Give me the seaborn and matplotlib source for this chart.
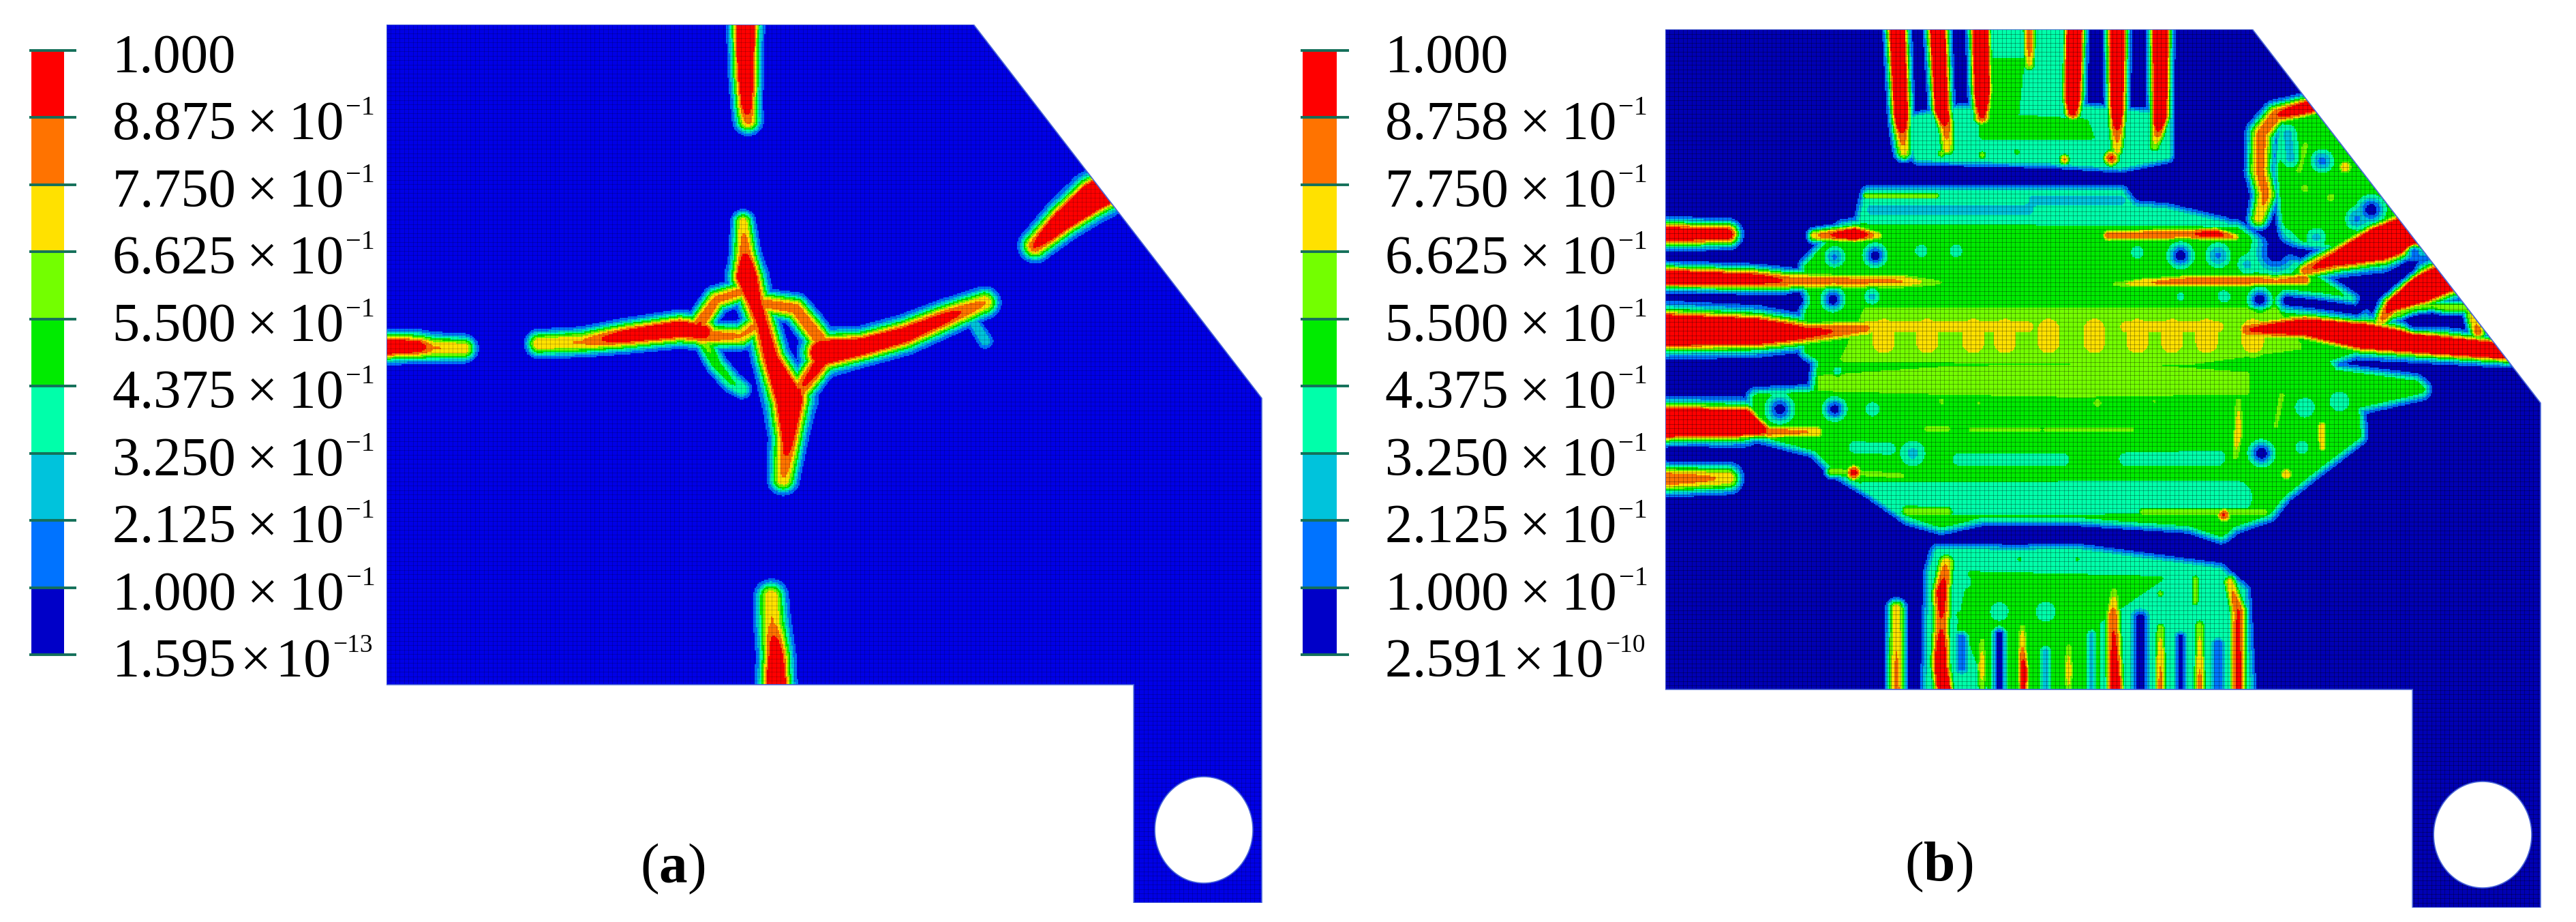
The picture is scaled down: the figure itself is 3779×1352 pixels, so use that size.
import numpy as np
import matplotlib
matplotlib.use("Agg")
import matplotlib.pyplot as plt
import seaborn as sns
from matplotlib.colors import BoundaryNorm, ListedColormap
from matplotlib.patches import PathPatch
from matplotlib.path import Path

# colour legend, top to bottom
numbers_a = ["1.000", "8.875", "7.750", "6.625", "5.500", "4.375", "3.250", "2.125", "1.000", "1.595"]
numbers_b = ["1.000", "8.758", "7.750", "6.625", "5.500", "4.375", "3.250", "2.125", "1.000", "2.591"]
powers_a = [None, "\u22121", "\u22121", "\u22121", "\u22121", "\u22121", "\u22121", "\u22121", "\u22121", "\u221213"]
powers_b = [None, "\u22121", "\u22121", "\u22121", "\u22121", "\u22121", "\u22121", "\u22121", "\u22121", "\u221210"]
boundaries = [0.0, 0.1, 0.2125, 0.325, 0.4375, 0.55, 0.6625, 0.775, 0.8875, 1.0001]
colours = ["#0000C8", "#0073FF", "#00C3DC", "#00FFAA", "#00EB00", "#73FF00", "#FFE100", "#FF7300", "#FF0000"]

# plate outline in px from its top left corner
outline = [(0, 0), (862, 0), (1285, 548), (1285, 1288), (1097, 1288), (1097, 968), (0, 968)]
hole = (1200, 1181, 72, 78)

# damage read along the crack lines of (a): x, y, half width, peak (enlarged crop units)
a_stem = [(598, 30, 31, 1.3), (598, 120, 29, 1.2), (600, 180, 27, 1.0), (602, 205, 27, 0.82)]
a_corner = [(1215, 310, 42, 1.55), (1170, 335, 42, 1.45), (1120, 375, 36, 1.2), (1075, 418, 30, 0.9)]
a_left = [(-10, 590, 30, 1.2), (60, 590, 29, 1.0), (85, 592, 28, 0.78), (135, 593, 26, 0.76)]
a_arm_l = [(258, 585, 26, 0.76), (330, 582, 27, 0.78), (400, 572, 30, 1.02), (490, 560, 32, 1.12), (530, 565, 32, 1.0)]
a_main = [(594, 378, 23, 0.72), (597, 430, 28, 0.88), (600, 470, 36, 1.2), (612, 510, 34, 1.0), (625, 550, 32, 0.95),
          (640, 610, 34, 1.0), (670, 680, 46, 1.25), (668, 745, 34, 0.98), (660, 815, 29, 0.77)]
a_arm_r = [(725, 600, 42, 1.25), (790, 590, 34, 1.1), (860, 570, 34, 1.05), (930, 540, 32, 0.95), (992, 515, 29, 0.78)]
a_ring_r = [(620, 515, 26, 0.82), (680, 525, 28, 0.85), (722, 580, 30, 0.88), (722, 615, 32, 0.98), (690, 660, 30, 0.88), (672, 680, 32, 0.98)]
a_ring_top = [(520, 555, 26, 0.9), (550, 510, 26, 0.82), (595, 495, 24, 0.82)]
a_ring_low = [(525, 572, 26, 0.9), (590, 572, 26, 0.78), (628, 545, 28, 0.82)]
a_hook = [(530, 580, 22, 0.6), (550, 620, 22, 0.5), (575, 650, 22, 0.45), (592, 662, 20, 0.42)]
a_tail = [(965, 535, 14, 0.3), (993, 580, 18, 0.28)]
a_bottom = [(648, 1180, 35, 1.3), (648, 1115, 33, 1.05), (642, 1060, 33, 0.78), (640, 1015, 31, 0.76)]
cracks_a = [a_stem, a_corner, a_left, a_arm_l, a_main, a_arm_r, a_ring_r, a_ring_top, a_ring_low, a_hook, a_tail, a_bottom]

# zones of (b): x, y polygons plus level and falloff width
zones_b = [
    ([(330, 750), (980, 760), (1010, 800), (1100, 900), (1190, 1010), (1210, 1130), (1130, 1180), (1150, 1230), (1290, 1265),
      (1300, 1280), (1185, 1330), (1190, 1430), (1120, 1530), (1060, 1620), (1035, 1680), (975, 1720), (955, 1750), (900, 1715),
      (700, 1690), (540, 1690), (470, 1720), (415, 1690), (355, 1610), (285, 1530), (255, 1470), (155, 1420), (150, 1310),
      (255, 1300), (265, 1180), (240, 1150), (240, 1000), (240, 880), (300, 760)], 0.5, 20),
    ([(345, 640), (780, 640), (800, 690), (860, 700), (960, 745), (330, 760)], 0.38, 18),
    ([(560, 100), (680, 100), (680, 360), (860, 390), (860, 510), (780, 540), (660, 525), (430, 515), (415, 400), (500, 370), (560, 370)], 0.4, 16),
    ([(540, 380), (720, 400), (730, 450), (540, 450)], 0.5, 12),
    ([(560, 200), (610, 200), (600, 380), (560, 380)], 0.5, 10),
    ([(1070, 370), (1110, 330), (1260, 690), (1170, 800), (1070, 780), (1060, 560)], 0.5, 18),
    ([(340, 1020), (1050, 1020), (1090, 1140), (900, 1190), (300, 1180)], 0.62, 14),
    ([(260, 1240), (480, 1210), (800, 1200), (1000, 1230), (1000, 1290), (700, 1300), (450, 1290), (260, 1280)], 0.6, 10),
    ([(465, 1817), (600, 1822), (700, 1817), (950, 1881), (990, 1946), (1000, 2290), (450, 2290), (455, 1881)], 0.38, 18),
    ([(520, 1886), (850, 1902), (750, 2031), (700, 2074), (500, 2074)], 0.5, 12),
    ([(500, 2020), (740, 2020), (740, 2290), (560, 2290)], 0.5, 12),
]

# streaks of (b): x, y, half width, peak
b_comb = [
    [(393, 90, 21, 1.4), (400, 380, 20, 1.3), (402, 440, 20, 0.88), (405, 500, 18, 0.72)],
    [(463, 90, 21, 1.4), (470, 360, 20, 1.25), (478, 420, 20, 0.85), (480, 490, 18, 0.72)],
    [(537, 90, 21, 1.4), (540, 300, 21, 1.4), (540, 385, 20, 0.9)],
    [(622, 90, 15, 0.86), (622, 180, 15, 0.8), (622, 215, 15, 0.68)],
    [(700, 90, 21, 1.4), (697, 320, 21, 1.35), (697, 370, 20, 0.95)],
    [(775, 90, 21, 1.35), (775, 350, 20, 1.2), (775, 440, 20, 0.84), (775, 495, 16, 0.72)],
    [(850, 90, 21, 1.4), (850, 380, 20, 1.25), (845, 440, 18, 0.84), (840, 480, 16, 0.62)],
]
b_blobs = [
    [(765, 520, 20, 0.9)], [(683, 525, 14, 0.78)], [(540, 510, 12, 0.6)], [(470, 505, 12, 0.6)], [(600, 500, 12, 0.5)],
    [(340, 645, 10, 0.6), (460, 645, 10, 0.6)], [(1170, 550, 20, 0.75)], [(1100, 620, 18, 0.62)], [(1145, 650, 18, 0.62)],
    [(1100, 480, 14, 0.62), (1090, 560, 14, 0.62)],
]
b_left = [
    [(-20, 770, 26, 1.1), (100, 770, 24, 1.0)],
    [(-20, 911, 24, 1.15), (150, 918, 23, 1.0), (210, 925, 21, 0.85), (400, 925, 21, 0.78), (470, 930, 15, 0.55)],
    [(-20, 1085, 41, 1.5), (150, 1090, 37, 1.35), (240, 1095, 28, 0.95), (340, 1080, 24, 0.8)],
    [(-20, 1390, 37, 1.5), (125, 1388, 35, 1.45), (170, 1420, 17, 0.85), (255, 1420, 17, 0.76)],
    [(-20, 1575, 28, 0.9), (100, 1572, 26, 0.75)],
    [(250, 775, 14, 0.75), (320, 770, 20, 1.1), (360, 775, 14, 0.72)],
]
b_right = [
    [(1110, 350, 22, 1.1), (1050, 380, 24, 0.88), (1025, 440, 26, 0.84), (1022, 560, 25, 0.82), (1032, 640, 24, 0.82), (1020, 720, 20, 0.72)],
    [(1310, 745, 42, 1.6), (1230, 800, 42, 1.6), (1150, 855, 28, 1.0), (1100, 890, 20, 0.85)],
    [(1100, 920, 17, 0.86), (900, 925, 18, 0.85), (820, 930, 15, 0.76), (770, 935, 10, 0.6)],
    [(760, 775, 16, 0.85), (900, 770, 16, 0.86), (945, 770, 16, 1.0), (980, 780, 12, 0.75)],
    [(1375, 890, 36, 1.55), (1300, 950, 36, 1.5), (1250, 1005, 24, 1.0), (1228, 1065, 16, 0.72)],
    [(1240, 1040, 14, 0.62), (1300, 1010, 14, 0.6), (1385, 1010, 14, 0.6)],
    [(1000, 1085, 22, 0.88), (1100, 1075, 30, 1.1), (1200, 1105, 34, 1.4), (1300, 1130, 28, 1.25), (1450, 1155, 24, 1.2)],
    [(1385, 1020, 14, 0.62), (1400, 1090, 18, 0.85)],
]
b_lime = [
    [(985, 1320, 14, 0.62), (985, 1420, 15, 0.76), (980, 1500, 14, 0.62)],
    [(1130, 1400, 13, 0.76), (1130, 1470, 13, 0.72)],
    [(1060, 1300, 14, 0.6), (1050, 1400, 12, 0.58)],
    [(445, 1410, 15, 0.6), (480, 1410, 15, 0.6)], [(520, 1412, 11, 0.58), (640, 1412, 11, 0.58)], [(650, 1412, 12, 0.6), (800, 1412, 12, 0.6)],
    [(470, 1320, 14, 0.6)], [(740, 1325, 20, 0.6)], [(535, 1325, 10, 0.58)], [(840, 1320, 10, 0.58)],
]
# yellow fingers of the middle band
b_fingers = [370, 445, 525, 580, 655, 735, 810, 870, 930, 1010]
b_finger_top = [[(340, 1075, 26, 0.74), (620, 1075, 26, 0.74)], [(790, 1075, 26, 0.74), (950, 1075, 26, 0.74)]]

# lower crop of (b)
b_stripes_low = [
    [(392, 610, 18, 0.74), (392, 760, 18, 0.78), (392, 870, 18, 0.82)],
    [(478, 470, 21, 0.76), (470, 560, 22, 1.0), (470, 660, 22, 0.86), (468, 780, 22, 1.1), (475, 870, 22, 1.15)],
    [(610, 670, 13, 0.65), (610, 740, 14, 0.8), (612, 800, 14, 1.0), (612, 870, 14, 0.9)],
    [(690, 730, 13, 0.62), (690, 800, 13, 0.74), (690, 870, 13, 0.62)],
    [(770, 560, 16, 0.62), (768, 630, 19, 0.85), (770, 760, 20, 0.95), (772, 870, 20, 1.1)],
    [(850, 670, 13, 0.62), (850, 760, 14, 0.76), (850, 870, 14, 0.82)],
    [(918, 660, 13, 0.62), (918, 780, 14, 0.76), (918, 870, 14, 0.84)],
    [(970, 530, 16, 0.72), (985, 620, 20, 0.9), (985, 870, 20, 0.92)],
    [(540, 710, 12, 0.6), (540, 790, 13, 0.76), (540, 870, 12, 0.55)],
    [(910, 520, 11, 0.6), (910, 590, 11, 0.6)], [(850, 565, 10, 0.6)], [(605, 460, 9, 0.5)], [(705, 460, 9, 0.5)],
]

# low spots of (b): x, y, half width, floor (upper crop)
b_dips = [
    [(350, 690, 12, 0.27), (620, 690, 12, 0.27)], [(630, 660, 12, 0.27), (780, 660, 12, 0.27)],
    [(220, 985, 20, 0.03)], [(282, 985, 20, 0.03)], [(350, 975, 15, 0.3)], [(285, 845, 18, 0.2)], [(355, 840, 20, 0.04)],
    [(435, 825, 15, 0.38)], [(495, 825, 15, 0.38)], [(810, 830, 15, 0.38)], [(885, 840, 22, 0.04)], [(950, 840, 22, 0.2)],
    [(960, 975, 15, 0.38)], [(885, 975, 10, 0.38)], [(1022, 985, 20, 0.03)], [(1050, 830, 40, 0.03)],
    [(1070, 990, 18, 0.03), (1120, 1000, 18, 0.03), (1190, 1020, 18, 0.03), (1230, 950, 18, 0.03), (1280, 880, 18, 0.03)],
    [(1290, 830, 16, 0.15)], [(1320, 1050, 18, 0.04), (1290, 1060, 18, 0.04)], [(1215, 690, 24, 0.03)], [(1130, 530, 20, 0.18)],
    [(1070, 440, 18, 0.3), (1075, 520, 18, 0.3)], [(1120, 780, 18, 0.3)], [(1190, 720, 20, 0.2)], [(1000, 870, 18, 0.3)],
    [(290, 1220, 10, 0.38)], [(190, 1345, 24, 0.05)], [(285, 1345, 20, 0.05)], [(350, 1345, 17, 0.38)],
    [(320, 1470, 14, 0.38), (380, 1475, 14, 0.38)], [(420, 1490, 24, 0.3)], [(500, 1510, 15, 0.38), (680, 1510, 15, 0.38)],
    [(790, 1510, 16, 0.38), (950, 1505, 18, 0.38)], [(1025, 1490, 22, 0.03)], [(1100, 1340, 20, 0.33)], [(1160, 1320, 20, 0.33)], [(1095, 1470, 16, 0.38)],
    [(60, 1240, 10, 0.2)],
]
# lower crop again
b_dips_low = [
    [(340, 275, 40, 0.38), (980, 270, 40, 0.38)],
    [(570, 690, 13, 0.05), (570, 870, 13, 0.05)], [(815, 640, 16, 0.03), (815, 870, 16, 0.03)], [(885, 700, 11, 0.05), (885, 870, 11, 0.05)],
    [(950, 720, 11, 0.1), (950, 870, 11, 0.1)], [(505, 700, 12, 0.15), (505, 790, 12, 0.15)], [(650, 740, 10, 0.3), (650, 870, 10, 0.3)],
    [(730, 690, 9, 0.3), (730, 870, 9, 0.3)], [(570, 620, 22, 0.38)], [(650, 620, 24, 0.38)], [(510, 530, 16, 0.38)],
    [(60, 135, 15, 0.05), (0, 135, 15, 0.05)],
]
# marks that sit on top of the low spots
b_late_low = [
    [(280, 190, 14, 0.6), (400, 205, 14, 0.6)], [(318, 195, 20, 0.95)], [(1068, 200, 18, 0.76)],
    [(820, 315, 14, 0.6), (1030, 315, 14, 0.6)], [(960, 325, 18, 0.9)], [(410, 312, 16, 0.62), (480, 315, 16, 0.62)],
]

sns.set_theme(style="white")
plt.rcParams["font.family"] = ["Liberation Serif", "DejaVu Serif"]
plt.rcParams["mathtext.fontset"] = "custom"
plt.rcParams["mathtext.rm"] = "Liberation Serif"
plt.rcParams["mathtext.bf"] = "Liberation Serif:bold"


def from_crop_a(rows):
    return [((x - 8) / 1.12, (y - 42) / 1.16, w / 1.12, p) for x, y, w, p in rows]


def from_crop_up(rows):
    return [(x / 1.18 + 7, y / 2.24 - 43.5, w, p) for x, y, w, p in rows]


def from_crop_low(rows):
    return [(x / 1.18 + 7, y / 2.085 + 556.5, w, p) for x, y, w, p in rows]


def seg_dist(X, Y, x0, y0, x1, y1):
    dx, dy = x1 - x0, y1 - y0
    t = np.clip(((X - x0) * dx + (Y - y0) * dy) / max(dx * dx + dy * dy, 1e-9), 0, 1)
    return np.hypot(X - x0 - t * dx, Y - y0 - t * dy), t


def falloff(d, w):
    return 10.0 ** (-np.minimum(d / w, 3.0) ** 2.5)


def stroke_parts(X, Y, rows):
    """yield distance based weight and peak for each piece of a streak"""
    if len(rows) == 1:
        rows = rows * 2
    for a, b in zip(rows[:-1], rows[1:]):
        d, t = seg_dist(X, Y, a[0], a[1], b[0], b[1])
        yield falloff(d, a[2] + t * (b[2] - a[2])), a[3] + t * (b[3] - a[3])


def add_stroke(field, X, Y, rows):
    for g, p in stroke_parts(X, Y, rows):
        np.maximum(field, g * p, out=field)


def add_dip(field, X, Y, rows):
    weight = np.zeros_like(field)
    floor = rows[0][3]
    for g, _ in stroke_parts(X, Y, rows):
        np.maximum(weight, g, out=weight)
    field[:] = np.where(field > floor, field + (floor - field) * weight, field)


def add_zone(field, X, Y, poly, level, w):
    pts = np.array(poly)
    inside = Path(pts).contains_points(np.c_[X.ravel(), Y.ravel()]).reshape(X.shape)
    d = np.full(X.shape, 1e9)
    for a, b in zip(pts, np.roll(pts, -1, axis=0)):
        np.minimum(d, seg_dist(X, Y, a[0], a[1], b[0], b[1])[0], out=d)
    d[inside] = 0
    np.maximum(field, level * falloff(d, w), out=field)


def plate_grid():
    x = np.arange(0, 1285, 2) + 1.0
    y = np.arange(0, 1288, 2) + 1.0
    return np.meshgrid(x, y)


def build_a():
    X, Y = plate_grid()
    field = np.zeros(X.shape)
    for rows in cracks_a:
        add_stroke(field, X, Y, from_crop_a(rows))
    return field


def build_b():
    X, Y = plate_grid()
    field = np.zeros(X.shape)
    for poly, level, w in zones_b:
        xy = [(r[0], r[1]) for r in from_crop_up([(p[0], p[1], 0, 0) for p in poly])]
        add_zone(field, X, Y, xy, level, w)
    for group in [b_comb, b_blobs, b_left, b_right, b_lime, b_finger_top]:
        for rows in group:
            add_stroke(field, X, Y, from_crop_up(rows))
    for fx in b_fingers:
        add_stroke(field, X, Y, from_crop_up([(fx, 1085, 50, 0.76), (fx, 1125, 50, 0.76)]))
    for rows in b_stripes_low:
        add_stroke(field, X, Y, from_crop_low(rows))
    for rows in b_dips:
        add_dip(field, X, Y, from_crop_up(rows))
    for rows in b_dips_low:
        add_dip(field, X, Y, from_crop_low(rows))
    for rows in b_late_low:
        add_stroke(field, X, Y, from_crop_low(rows))
    return field


def draw_plate(fig, field, left, top, navy, mesh_alpha):
    W, H = 3779, 1352
    ax = fig.add_axes([left / W, 1 - (top + 1288) / H, 1285 / W, 1288 / H])
    cmap = ListedColormap([navy] + colours[1:])
    sns.heatmap(np.clip(field, 0, 1), cmap=cmap, norm=BoundaryNorm(boundaries, cmap.N), cbar=False,
                xticklabels=False, yticklabels=False, ax=ax)
    verts = [(x / 2, y / 2) for x, y in outline] + [(0, 0)]
    codes = [Path.MOVETO] + [Path.LINETO] * (len(outline) - 1) + [Path.CLOSEPOLY]
    ang = np.linspace(0, -2 * np.pi, 120)
    hv = np.c_[hole[0] / 2 + hole[2] / 2 * np.cos(ang), hole[1] / 2 + hole[3] / 2 * np.sin(ang)]
    hc = [Path.MOVETO] + [Path.LINETO] * (len(ang) - 1)
    clip = PathPatch(Path(np.r_[verts, hv], codes + hc), fc="none", ec="#4a66d8", lw=1.2, zorder=5)
    ax.add_patch(clip)
    ax.collections[0].set_clip_path(clip)
    # element grid
    vl = ax.vlines(np.arange(0, 643, 3.25), 0, 644, color="black", lw=0.6, alpha=mesh_alpha)
    hl = ax.hlines(np.arange(0, 644, 3.25), 0, 643, color="black", lw=0.6, alpha=mesh_alpha)
    vl.set_clip_path(clip)
    hl.set_clip_path(clip)
    ax.set_xlim(0, 643)
    ax.set_ylim(644, 0)
    ax.axis("off")


def draw_legend(fig, numbers, powers, left, right, text_x):
    W, H = 3779, 1352
    top, bottom = 74, 960
    ax = fig.add_axes([left / W, 1 - bottom / H, (right - left) / W, (bottom - top) / H])
    cmap = ListedColormap(colours)
    steps = np.arange(len(colours))[::-1].reshape(-1, 1)
    sns.heatmap(steps, cmap=cmap, vmin=-0.5, vmax=8.5, cbar=False, xticklabels=False, yticklabels=False, ax=ax)
    unit = right - left
    ax.hlines(np.arange(10), -3 / unit, (right - left + 18) / unit, color="#14705a", lw=2.8, clip_on=False)
    row = (bottom - top) / 9
    for i, (num, power) in enumerate(zip(numbers, powers)):
        base = i + 32 / row
        # the bottom row sits tighter so its longer power stays clear of the plate
        gap = "\u200a" if i == 9 else "\u2009"
        label = num if power is None else num + gap + "\u00d7" + gap + "10"
        main = ax.text((text_x - left) / unit, base, label, fontsize=58, va="baseline", ha="left",
                       clip_on=False, color="black")
        if power is not None:
            ax.annotate(power, xy=(1, i - 4 / row), xycoords=(main, "data"), xytext=(2, 0), textcoords="offset points",
                        fontsize=27 if i == 9 else 29, va="baseline", ha="left", annotation_clip=False, color="black")


fig = plt.figure(figsize=(37.79, 13.52), dpi=100, facecolor="white")
draw_plate(fig, build_a(), 567, 36, "#0000E6", 0.22)
draw_plate(fig, build_b(), 2443, 43, "#0000B4", 0.35)
draw_legend(fig, numbers_a, powers_a, 46, 94, 165)
draw_legend(fig, numbers_b, powers_b, 1911, 1961, 2032)
fig.text(987 / 3779, 1 - 1274 / 1352, r"($\mathbf{a}$)", fontsize=60, ha="center", va="center", color="black")
fig.text(2844 / 3779, 1 - 1271 / 1352, r"($\mathbf{b}$)", fontsize=60, ha="center", va="center", color="black")
fig.savefig("out.png", dpi=100, facecolor="white")
